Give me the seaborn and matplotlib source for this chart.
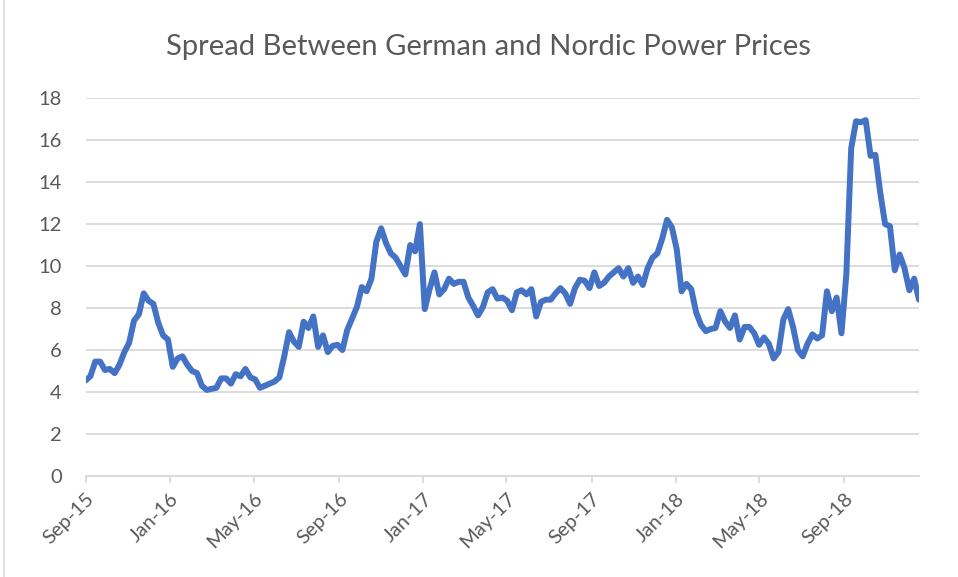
import numpy as np, pandas as pd
import seaborn as sns
import matplotlib.pyplot as plt
import matplotlib.dates as mdates
from matplotlib.lines import Line2D

sns.set_theme(style="white")
plt.rcParams['font.family'] = ['Lato', 'DejaVu Sans']

# weekly spread (EUR/MWh)
spread = [
    4.55, 4.75, 5.45, 5.45, 5.05, 5.1, 4.9, 5.3, 5.9, 6.35,
    7.4, 7.7, 8.7, 8.35, 8.2, 7.3, 6.7, 6.5, 5.2, 5.6,
    5.7, 5.3, 5.0, 4.9, 4.3, 4.1, 4.15, 4.2, 4.65, 4.65,
    4.4, 4.85, 4.75, 5.1, 4.7, 4.6, 4.2, 4.3, 4.4, 4.5,
    4.7, 5.7, 6.85, 6.4, 6.15, 7.35, 7.05, 7.6, 6.15, 6.7,
    5.9, 6.2, 6.25, 6.0, 6.95, 7.5, 8.05, 9.0, 8.8, 9.4,
    11.15, 11.8, 11.1, 10.6, 10.4, 10.0, 9.6, 11.0, 10.7, 12.0,
    7.95, 8.9, 9.7, 8.65, 8.9, 9.4, 9.15, 9.25, 9.25, 8.5,
    8.1, 7.65, 8.05, 8.75, 8.9, 8.45, 8.5, 8.35, 7.9, 8.75,
    8.85, 8.65, 8.9, 7.6, 8.3, 8.4, 8.4, 8.7, 8.95, 8.7,
    8.2, 8.95, 9.35, 9.3, 8.95, 9.7, 9.05, 9.2, 9.5, 9.7,
    9.9, 9.5, 9.9, 9.2, 9.5, 9.1, 9.9, 10.4, 10.6, 11.3,
    12.2, 11.85, 10.8, 8.8, 9.15, 8.9, 7.8, 7.2, 6.9, 7.0,
    7.05, 7.85, 7.35, 7.05, 7.65, 6.5, 7.1, 7.1, 6.8, 6.25,
    6.6, 6.3, 5.6, 5.9, 7.45, 7.95, 7.1, 6.0, 5.7, 6.3,
    6.75, 6.55, 6.7, 8.8, 7.85, 8.5, 6.8, 9.6, 15.6, 16.9,
    16.85, 16.95, 15.25, 15.3, 13.5, 12.0, 11.9, 9.8, 10.55, 9.9,
    8.85, 9.4, 8.4,
]
weeks = pd.date_range("2015-09-01", periods=len(spread), freq="7D")
tick_dates = pd.date_range("2015-09-01", "2018-09-01", freq="4MS")
y_ticks = list(range(0, 20, 2))

df = pd.DataFrame({"week": weeks, "spread": spread})

grey = "#595959"
fig = plt.figure(figsize=(9.58, 5.77), dpi=100)
ax = fig.add_axes([0.0893, 0.175, 0.870, 0.655])
sns.lineplot(data=df, x="week", y="spread", ax=ax, color="#4472C4", linewidth=4.3)

ax.set_xlim(weeks[0], weeks[-1])
ax.set_ylim(0, 18)
ax.set_yticks(y_ticks)
ax.set_xticks(tick_dates)
ax.xaxis.set_major_formatter(mdates.DateFormatter("%b-%y"))
ax.grid(axis="y", color="#d9d9d9", linewidth=1.3)
ax.set_axisbelow(True)
for s in ["top", "right", "left"]:
    ax.spines[s].set_visible(False)
ax.spines["bottom"].set_color("#d9d9d9")
ax.spines["bottom"].set_linewidth(1.3)
ax.tick_params(axis="y", length=0, pad=17, labelsize=14.5, labelcolor=grey)
ax.tick_params(axis="x", bottom=True, length=5, width=1.3, color="#d9d9d9",
               pad=5, labelsize=14.5, labelcolor=grey)
plt.setp(ax.get_xticklabels(), rotation=45, ha="right", rotation_mode="anchor")
ax.set_xlabel("")
ax.set_ylabel("")

fig.text(0.51, 0.918, "Spread Between German and Nordic Power Prices",
         ha="center", va="center", fontsize=21, color=grey)
fig.add_artist(Line2D([0.004, 0.004], [0, 1], transform=fig.transFigure,
                      color="#d9d9d9", linewidth=1.2))

fig.savefig("out.png", dpi=100)
